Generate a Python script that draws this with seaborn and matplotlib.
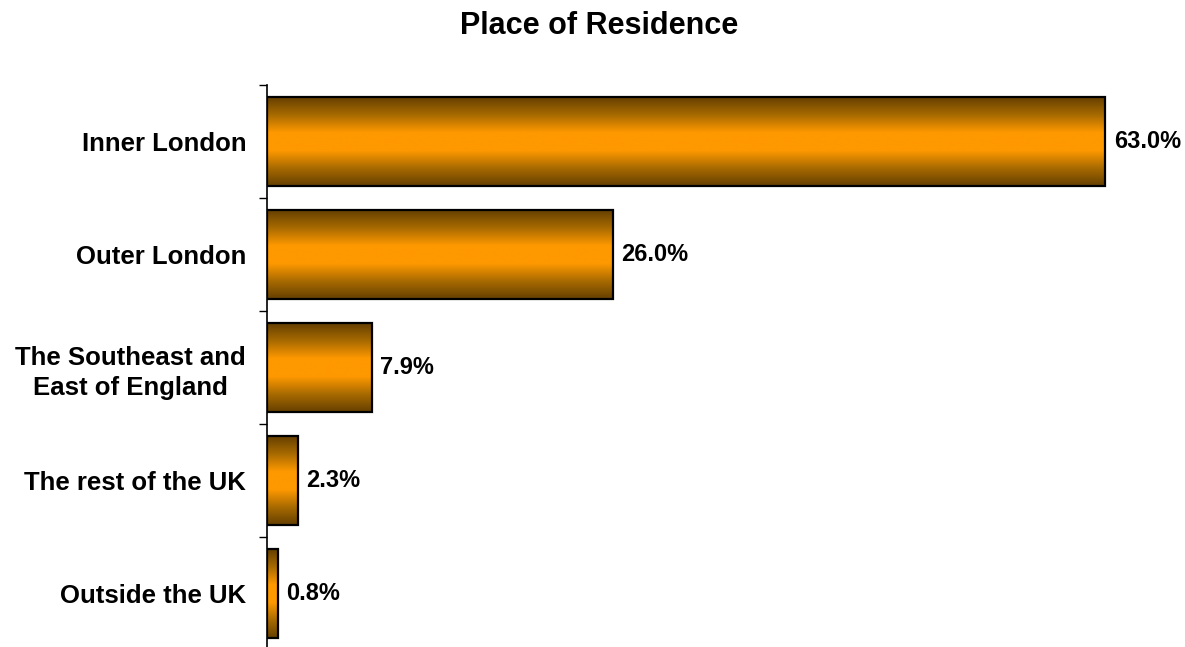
import numpy as np
import pandas as pd
import seaborn as sns
import matplotlib
matplotlib.use("Agg")
import matplotlib.pyplot as plt
from matplotlib.colors import LinearSegmentedColormap

categories = ["Inner London", "Outer London", "The Southeast and\nEast of England",
              "The rest of the UK", "Outside the UK"]
shares = [63.0, 26.0, 7.9, 2.3, 0.8]
value_labels = ["63.0%", "26.0%", "7.9%", "2.3%", "0.8%"]
title = "Place of Residence"

sns.set_theme(style="white")
plt.rcParams["font.family"] = ["Liberation Sans", "DejaVu Sans"]

df = pd.DataFrame({"region": categories, "share": shares})

fig = plt.figure(figsize=(11.85, 6.47), dpi=100)
ax = fig.add_axes([0.2253, -0.0046, 0.73, 0.8732])

sns.barplot(data=df, y="region", x="share", orient="h", width=0.78,
            color="#FF9900", edgecolor="black", linewidth=1.6, ax=ax)

# vertical metallic shading: dark bronze at the edges, bright orange in the middle
shade = LinearSegmentedColormap.from_list(
    "bronze", ["#654000", "#A86A00", "#FF9900", "#FF9900", "#A86A00", "#654000"])
grad = np.linspace(0, 1, 256).reshape(-1, 1)
for patch in ax.patches:
    x0, y0 = patch.get_x(), patch.get_y()
    w, h = patch.get_width(), patch.get_height()
    ax.imshow(grad, cmap=shade, aspect="auto", interpolation="bicubic",
              extent=[x0, x0 + w, y0 + h, y0], zorder=2)
    patch.set_facecolor("none")
    patch.set_zorder(3)

for patch, txt in zip(ax.patches, value_labels):
    ax.annotate(txt, (patch.get_x() + patch.get_width(), patch.get_y() + patch.get_height() / 2),
                xytext=(6, 0), textcoords="offset points", ha="left", va="center",
                fontsize=17, fontweight="bold", color="black")

ax.set_xlim(0, 65)
ax.set_ylim(len(categories) - 0.5, -0.5)
ax.set_xlabel("")
ax.set_ylabel("")
ax.set_xticks([])

for side in ["top", "right", "bottom"]:
    ax.spines[side].set_visible(False)
ax.spines["left"].set_color("black")
ax.spines["left"].set_linewidth(1.2)

ax.set_yticks(np.arange(-0.5, len(categories), 1.0), minor=True)
ax.tick_params(axis="y", which="minor", direction="out", length=6, width=1.0,
               color="black", left=True)
ax.tick_params(axis="y", which="major", length=0, pad=15)
for lab in ax.get_yticklabels():
    lab.set_fontsize(18.5)
    lab.set_fontweight("bold")
    lab.set_multialignment("center")
    lab.set_linespacing(1.3)
    lab.set_color("black")

fig.text(0.506, 0.96, title, ha="center", va="center", fontsize=22,
         fontweight="bold", color="black")

fig.savefig("out.png", dpi=100, facecolor="white")
